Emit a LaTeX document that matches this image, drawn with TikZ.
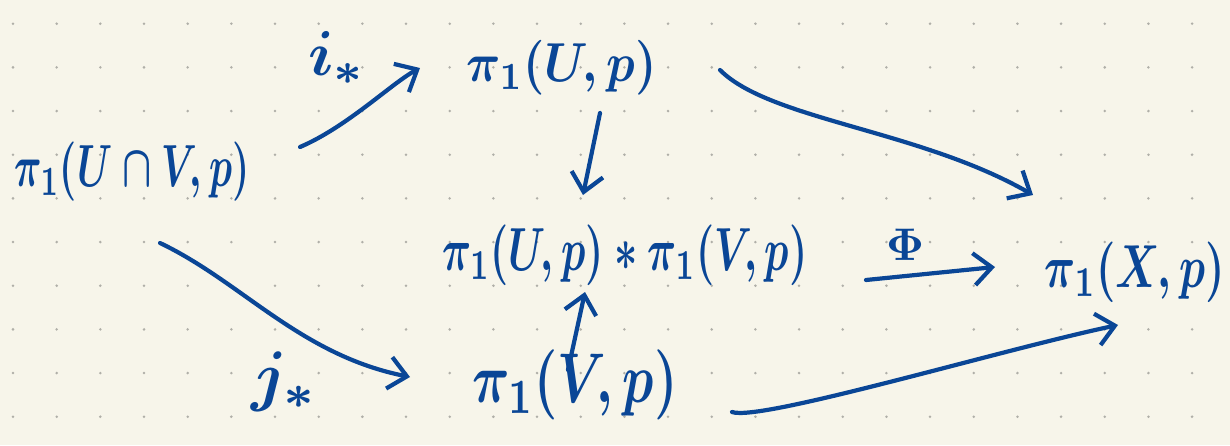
\documentclass[tikz,border=0pt]{standalone}
\usepackage{graphicx}
\usetikzlibrary{arrows.meta}
\definecolor{paper}{RGB}{247,245,234}
\definecolor{dotc}{RGB}{176,175,168}
\definecolor{ink}{RGB}{10,70,150}
\newcommand{\hw}[3]{\scalebox{1}[#2]{\resizebox{#1}{!}{\boldmath$#3$}}}
\tikzset{
  lbl/.style={text=ink, inner sep=0pt},
  arr/.style={draw=ink, line width=4.2pt, line cap=round,
    -{Straight Barb[length=18pt,width=32pt,line width=4.2pt]}},
}
\begin{document}
\begin{tikzpicture}[x=1pt,y=-1pt]
\fill[paper] (0,0) rectangle (1230,445);
\useasboundingbox (0,0) rectangle (1230,445);
\foreach \i in {0,...,27}{
  \foreach \j in {0,...,9}{
    \fill[dotc] ({13+43.67*\i},{23.7+43.67*\j}) circle (1.4);
  }
}
\node[lbl] (A) at (132,172) {\hw{235pt}{1.55}{\pi_1(U\cap V,p)}};
\node[lbl] (B) at (562,68) {\hw{190pt}{1.15}{\pi_1(U,p)}};
\node[lbl] (C) at (625,255) {\hw{365pt}{1.5}{\pi_1(U,p)*\pi_1(V,p)}};
\node[lbl] (D) at (575,385) {\hw{205pt}{1.35}{\pi_1(V,p)}};
\node[lbl] (E) at (1135,272) {\hw{180pt}{1.4}{\pi_1(X,p)}};
\node[lbl] (i) at (337,58) {\hw{58pt}{1}{i_*}};
\node[lbl] (j) at (285,382) {\hw{66pt}{1}{j_*}};
\node[lbl] (phi) at (905,245) {\hw{38pt}{1}{\Phi}};

\draw[arr] ([shift={(168,-25)}]A.center) .. controls ([shift={(215,-45)}]A.center) and ([shift={(-170,15)}]B.center) .. ([shift={(-142,0)}]B.center);
\draw[arr] ([shift={(38,45)}]B.center) -- ([shift={(-42,-60)}]C.center);
\draw[arr] ([shift={(-7,-15)}]D.center) -- ([shift={(-40,37)}]C.center);
\draw[arr] ([shift={(28,71)}]A.center) .. controls ([shift={(110,110)}]A.center) and ([shift={(-275,-30)}]D.center) .. ([shift={(-165,-8)}]D.center);
\draw[arr] ([shift={(158,2)}]B.center) .. controls ([shift={(208,52)}]B.center) and ([shift={(-215,-142)}]E.center) .. ([shift={(-102,-77)}]E.center);
\draw[arr] ([shift={(241,25)}]C.center) -- ([shift={(-140,-5)}]E.center);
\draw[arr] ([shift={(157,27)}]D.center) .. controls ([shift={(185,37)}]D.center) and ([shift={(-135,78)}]E.center) .. ([shift={(-17,53)}]E.center);
\end{tikzpicture}
\end{document}
